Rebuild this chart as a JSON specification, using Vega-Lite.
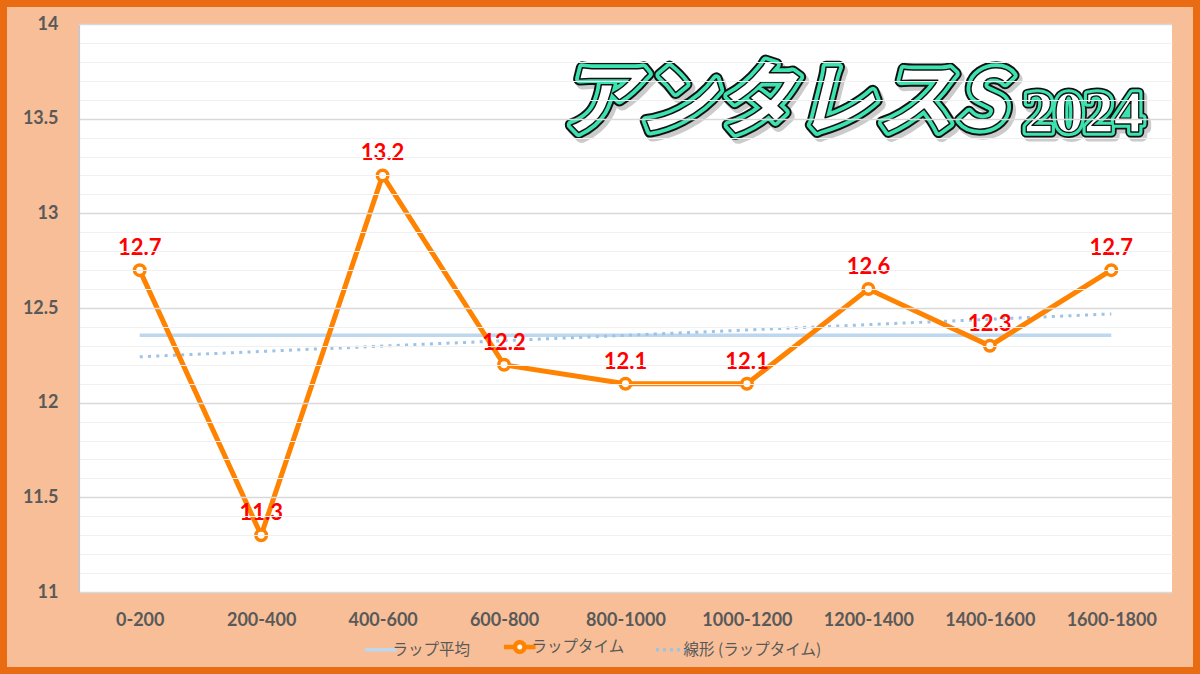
{
  "$schema": "https://vega.github.io/schema/vega-lite/v6.json",
  "width": 1186,
  "height": 660,
  "padding": 7,
  "autosize": {"type": "none"},
  "background": "#E96B12",
  "config": {"view": {"fill": "#F7BE97", "stroke": null}, "font": "Lato"},
  "data": {
    "values": [
      {"idx": 0, "seg": "0-200", "t": 12.7},
      {"idx": 1, "seg": "200-400", "t": 11.3},
      {"idx": 2, "seg": "400-600", "t": 13.2},
      {"idx": 3, "seg": "600-800", "t": 12.2},
      {"idx": 4, "seg": "800-1000", "t": 12.1},
      {"idx": 5, "seg": "1000-1200", "t": 12.1},
      {"idx": 6, "seg": "1200-1400", "t": 12.6},
      {"idx": 7, "seg": "1400-1600", "t": 12.3},
      {"idx": 8, "seg": "1600-1800", "t": 12.7}
    ]
  },
  "layer": [
    {
      "data": {"values": [{}]},
      "mark": {"type": "rect", "fill": "white"},
      "encoding": {
        "x": {"datum": -0.5, "type": "quantitative"},
        "x2": {"datum": 8.5},
        "y": {
          "datum": 11,
          "type": "quantitative",
          "axis": {
            "orient": "left",
            "offset": -72,
            "values": [11.1, 11.2, 11.3, 11.4, 11.6, 11.7, 11.8, 11.9, 12.1, 12.2, 12.3, 12.4, 12.6, 12.7, 12.8, 12.9, 13.1, 13.2, 13.3, 13.4, 13.6, 13.7, 13.8, 13.9],
            "grid": true,
            "gridColor": "#F0F0F0",
            "gridWidth": 1.2,
            "labels": false,
            "ticks": false,
            "domain": false,
            "title": null,
            "zindex": 1
          }
        },
        "y2": {"datum": 14}
      }
    },
    {
      "layer": [
        {
          "mark": {"type": "rule", "strokeWidth": 3.5},
          "encoding": {
            "x": {"aggregate": "min", "field": "idx", "type": "quantitative"},
            "x2": {"aggregate": "max", "field": "idx"},
            "y": {"aggregate": "mean", "field": "t", "type": "quantitative"},
            "color": {
              "datum": "ラップ平均",
              "type": "nominal",
              "scale": {
                "domain": ["ラップ平均", "ラップタイム", "線形 (ラップタイム)"],
                "range": ["#BDD7EE", "#FF8300", "#9DC3E6"]
              },
              "legend": {
                "orient": "none",
                "legendX": 366,
                "legendY": 632,
                "direction": "horizontal",
                "title": null,
                "padding": 0,
                "symbolType": "stroke",
                "symbolSize": 1000,
                "symbolStrokeWidth": 3.5,
                "labelFont": "Noto Sans CJK JP",
                "labelFontSize": 15.5,
                "labelColor": "#595959",
                "labelOffset": 4,
                "columnPadding": 23,
                "encode": {
                  "symbols": {
                    "update": {
                      "stroke": {"scale": "color", "field": "value"},
                      "shape": {"signal": "datum.value === 'ラップタイム' ? 'M-1,0H-0.3M0.3,0H1M0.3,0A0.3,0.3,0,1,1,-0.3,0A0.3,0.3,0,1,1,0.3,0' : 'stroke'"},
                      "fill": {"signal": "datum.value === 'ラップタイム' ? 'white' : 'transparent'"},
                      "strokeDash": {"signal": "datum.value === '線形 (ラップタイム)' ? [3, 4] : [1, 0]"},
                      "strokeWidth": {"signal": "datum.value === 'ラップタイム' ? 4.5 : 3.5"}
                    }
                  }
                }
              }
            }
          }
        },
        {
          "transform": [{"regression": "t", "on": "idx"}],
          "mark": {"type": "line", "strokeWidth": 3, "strokeDash": [3, 5.3]},
          "encoding": {
            "x": {"field": "idx", "type": "quantitative"},
            "y": {"field": "t", "type": "quantitative"},
            "color": {"datum": "線形 (ラップタイム)", "type": "nominal"}
          }
        },
        {
          "mark": {"type": "line", "strokeWidth": 5},
          "encoding": {
            "x": {
              "field": "idx",
              "type": "quantitative",
              "scale": {"domain": [-0.5, 8.5], "range": [72, 1165], "nice": false, "zero": false},
              "axis": {
                "orient": "bottom",
                "offset": -75,
                "values": [0, 1, 2, 3, 4, 5, 6, 7, 8],
                "labelExpr": "['0-200','200-400','400-600','600-800','800-1000','1000-1200','1200-1400','1400-1600','1600-1800'][datum.value]",
                "grid": false,
                "ticks": false,
                "domain": false,
                "labelPadding": 19,
                "labelFont": "Lato",
                "labelFontWeight": "bold",
                "labelFontSize": 18,
                "labelColor": "#595959",
                "title": null
              }
            },
            "y": {
              "field": "t",
              "type": "quantitative",
              "scale": {"domain": [11, 14], "range": [585, 17], "nice": false, "zero": false},
              "axis": {
                "orient": "left",
                "offset": -72,
                "values": [11, 11.5, 12, 12.5, 13, 13.5, 14],
                "format": ".1~f",
                "grid": true,
                "gridColor": "#D9D9D9",
                "gridWidth": 1.3,
                "ticks": false,
                "domain": true,
                "domainColor": "#B4CCE6",
                "domainWidth": 1.2,
                "labelPadding": 21,
                "labelFont": "Lato",
                "labelFontWeight": "bold",
                "labelFontSize": 18,
                "labelColor": "#595959",
                "title": null,
                "zindex": 1
              }
            },
            "color": {"datum": "ラップタイム", "type": "nominal"}
          }
        },
        {
          "mark": {"type": "point", "filled": true, "fill": "white", "stroke": "#FF8300", "strokeWidth": 3.5, "size": 110, "opacity": 1},
          "encoding": {
            "x": {"field": "idx", "type": "quantitative"},
            "y": {"field": "t", "type": "quantitative"}
          }
        },
        {
          "mark": {"type": "text", "font": "Lato", "fontWeight": "bold", "fontSize": 22, "color": "#FF0000", "baseline": "alphabetic", "dy": -15},
          "encoding": {
            "x": {"field": "idx", "type": "quantitative"},
            "y": {"field": "t", "type": "quantitative"},
            "text": {"field": "t", "type": "quantitative", "format": ".1f"}
          }
        },
        {
          "data": {"values": [{}]},
          "mark": {"type": "text", "text": "アンタレスS", "font": "Noto Sans CJK JP", "fontWeight": "bold", "fontStyle": "italic", "fontSize": 80, "align": "right", "baseline": "alphabetic", "dx": 3, "dy": 4, "fill": "#808080", "stroke": "#808080", "strokeWidth": 13, "strokeJoin": "round", "opacity": 0.4},
          "encoding": {"x": {"datum": 7.125, "type": "quantitative"}, "y": {"datum": 13.45, "type": "quantitative"}}
        },
        {
          "data": {"values": [{}]},
          "mark": {"type": "text", "text": "アンタレスS", "font": "Noto Sans CJK JP", "fontWeight": "bold", "fontStyle": "italic", "fontSize": 80, "align": "right", "baseline": "alphabetic", "fill": "#111111", "stroke": "#111111", "strokeWidth": 13, "strokeJoin": "round"},
          "encoding": {"x": {"datum": 7.125, "type": "quantitative"}, "y": {"datum": 13.45, "type": "quantitative"}}
        },
        {
          "data": {"values": [{}]},
          "mark": {"type": "text", "text": "アンタレスS", "font": "Noto Sans CJK JP", "fontWeight": "bold", "fontStyle": "italic", "fontSize": 80, "align": "right", "baseline": "alphabetic", "fill": "#3CE3B0", "stroke": "#3CE3B0", "strokeWidth": 9, "strokeJoin": "round"},
          "encoding": {"x": {"datum": 7.125, "type": "quantitative"}, "y": {"datum": 13.45, "type": "quantitative"}}
        },
        {
          "data": {"values": [{}]},
          "mark": {"type": "text", "text": "アンタレスS", "font": "Noto Sans CJK JP", "fontWeight": "bold", "fontStyle": "italic", "fontSize": 80, "align": "right", "baseline": "alphabetic", "fill": "white", "stroke": "#111111", "strokeWidth": 1.5, "strokeJoin": "round"},
          "encoding": {"x": {"datum": 7.125, "type": "quantitative"}, "y": {"datum": 13.45, "type": "quantitative"}}
        },
        {
          "data": {"values": [{}]},
          "mark": {"type": "text", "text": "2024", "font": "Liberation Serif", "fontWeight": "bold", "fontSize": 60, "align": "left", "baseline": "alphabetic", "dx": 3, "dy": 4, "fill": "#808080", "stroke": "#808080", "strokeWidth": 11, "strokeJoin": "round", "opacity": 0.4},
          "encoding": {"x": {"datum": 7.28, "type": "quantitative"}, "y": {"datum": 13.43, "type": "quantitative"}}
        },
        {
          "data": {"values": [{}]},
          "mark": {"type": "text", "text": "2024", "font": "Liberation Serif", "fontWeight": "bold", "fontSize": 60, "align": "left", "baseline": "alphabetic", "fill": "#111111", "stroke": "#111111", "strokeWidth": 11, "strokeJoin": "round"},
          "encoding": {"x": {"datum": 7.28, "type": "quantitative"}, "y": {"datum": 13.43, "type": "quantitative"}}
        },
        {
          "data": {"values": [{}]},
          "mark": {"type": "text", "text": "2024", "font": "Liberation Serif", "fontWeight": "bold", "fontSize": 60, "align": "left", "baseline": "alphabetic", "fill": "#3CE3B0", "stroke": "#3CE3B0", "strokeWidth": 7.5, "strokeJoin": "round"},
          "encoding": {"x": {"datum": 7.28, "type": "quantitative"}, "y": {"datum": 13.43, "type": "quantitative"}}
        },
        {
          "data": {"values": [{}]},
          "mark": {"type": "text", "text": "2024", "font": "Liberation Serif", "fontWeight": "bold", "fontSize": 60, "align": "left", "baseline": "alphabetic", "fill": "white", "stroke": "#111111", "strokeWidth": 1.3, "strokeJoin": "round"},
          "encoding": {"x": {"datum": 7.28, "type": "quantitative"}, "y": {"datum": 13.43, "type": "quantitative"}}
        }
      ]
    }
  ],
  "resolve": {"axis": {"y": "independent"}}
}
